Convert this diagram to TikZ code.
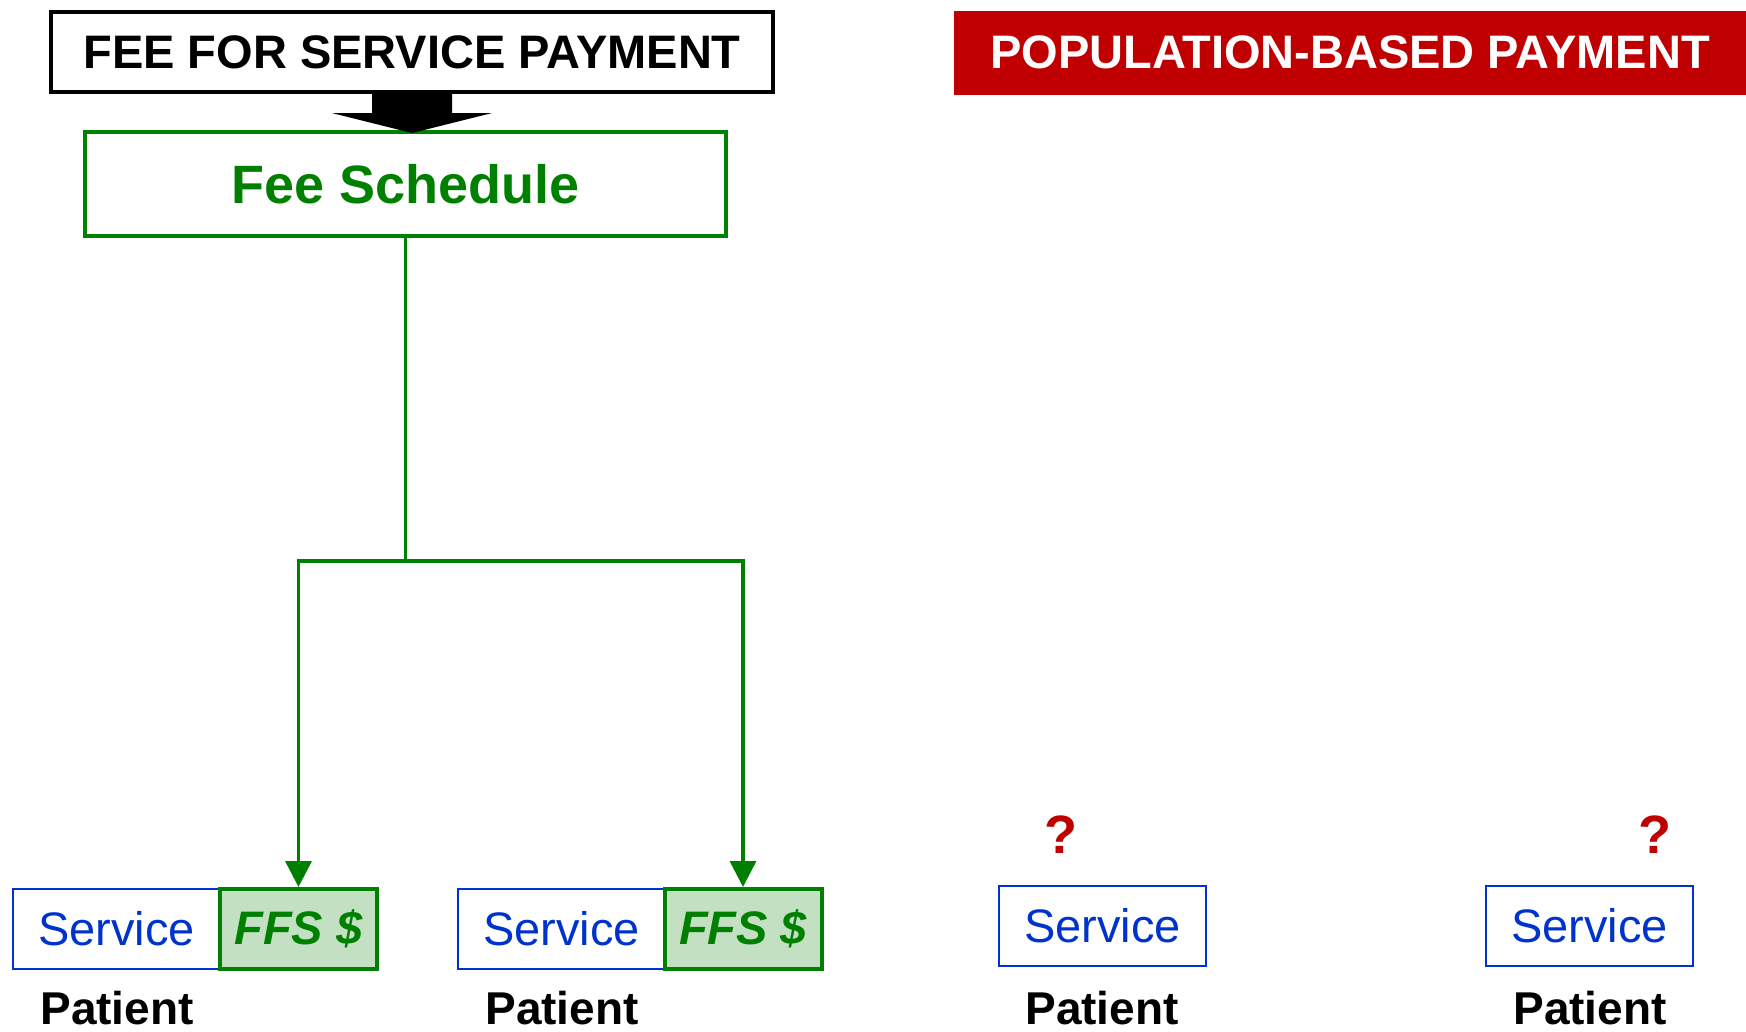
\documentclass[tikz,border=0pt]{standalone}
\usepackage{fontspec}
\setmainfont{Liberation Sans}
\usetikzlibrary{arrows.meta,calc}
\definecolor{pbred}{RGB}{192,0,0}
\definecolor{ffsgreen}{RGB}{0,128,0}
\definecolor{ffsfill}{RGB}{195,224,195}
\definecolor{svcblue}{RGB}{0,51,204}
\begin{document}
\begin{tikzpicture}[x=1pt,y=-1pt,
  titlebox/.style={draw=black,line width=4pt,minimum width=722pt,minimum height=80pt,inner sep=0pt,
    font=\fontsize{47}{50}\selectfont\bfseries},
  redbox/.style={fill=pbred,draw=pbred,minimum width=792pt,minimum height=83pt,inner sep=0pt,text=white,
    font=\fontsize{47}{50}\selectfont\bfseries},
  schedbox/.style={draw=ffsgreen,line width=3.5pt,minimum width=641pt,minimum height=104pt,inner sep=0pt,
    text=ffsgreen,font=\fontsize{54}{58}\selectfont\bfseries},
  svcbox/.style={draw=svcblue,line width=2pt,minimum width=207pt,minimum height=80pt,inner sep=0pt,
    text=svcblue,font=\fontsize{47}{50}\selectfont},
  feebox/.style={draw=ffsgreen,fill=ffsfill,line width=4pt,minimum width=157pt,minimum height=80pt,inner sep=0pt,
    text=ffsgreen,font=\fontsize{47}{50}\selectfont\bfseries\itshape},
  patlabel/.style={inner sep=0pt,font=\fontsize{46}{50}\selectfont\bfseries},
  qmark/.style={inner sep=0pt,text=pbred,font=\fontsize{54}{58}\selectfont\bfseries},
  conn/.style={draw=ffsgreen,line width=3.5pt},
  connarrow/.style={conn,-{Triangle[length=26pt,width=26pt]}}
]
\useasboundingbox (0,0) rectangle (1746,1031);

% titles
\node[titlebox] (ffs) at (412,52) {FEE FOR SERVICE PAYMENT};
\node[redbox] (pop) at (1350,52.5) {POPULATION-BASED PAYMENT};

% fee schedule
\node[schedbox] (sched) at (405.5,184) {Fee Schedule};

% block arrow
\fill[black] ($(ffs.south)+(-40,0)$) -- ($(ffs.south)+(40,0)$) -- ($(ffs.south)+(40,19)$)
  -- ($(ffs.south)+(80,19)$) -- ($(ffs.south)+(0,39)$) -- ($(ffs.south)+(-80,19)$)
  -- ($(ffs.south)+(-40,19)$) -- cycle;

% services (fee for service)
\node[svcbox] (svc1) at (116.5,929) {Service};
\node[feebox] (fee1) at (298.5,929) {FFS \$};
\node[svcbox] (svc2) at (561.5,929) {Service};
\node[feebox] (fee2) at (743,929) {FFS \$};

% services (population)
\node[svcbox] (svc3) at (1102.5,926) {Service};
\node[svcbox] (svc4) at (1589.5,926) {Service};

% question marks
\node[qmark] (q1) at (1061,835) {?};
\node[qmark] (q2) at (1655,835) {?};

% patients
\node[patlabel] (p1) at (117,1008) {Patient};
\node[patlabel] (p2) at (562,1008) {Patient};
\node[patlabel] (p3) at (1102,1008) {Patient};
\node[patlabel] (p4) at (1590,1008) {Patient};

% connectors
\coordinate (split) at (405.5,561);
\draw[conn] (sched.south) -- (split);
\draw[connarrow] (split) -| (fee1.north);
\draw[connarrow] (split) -| (fee2.north);
\end{tikzpicture}
\end{document}
